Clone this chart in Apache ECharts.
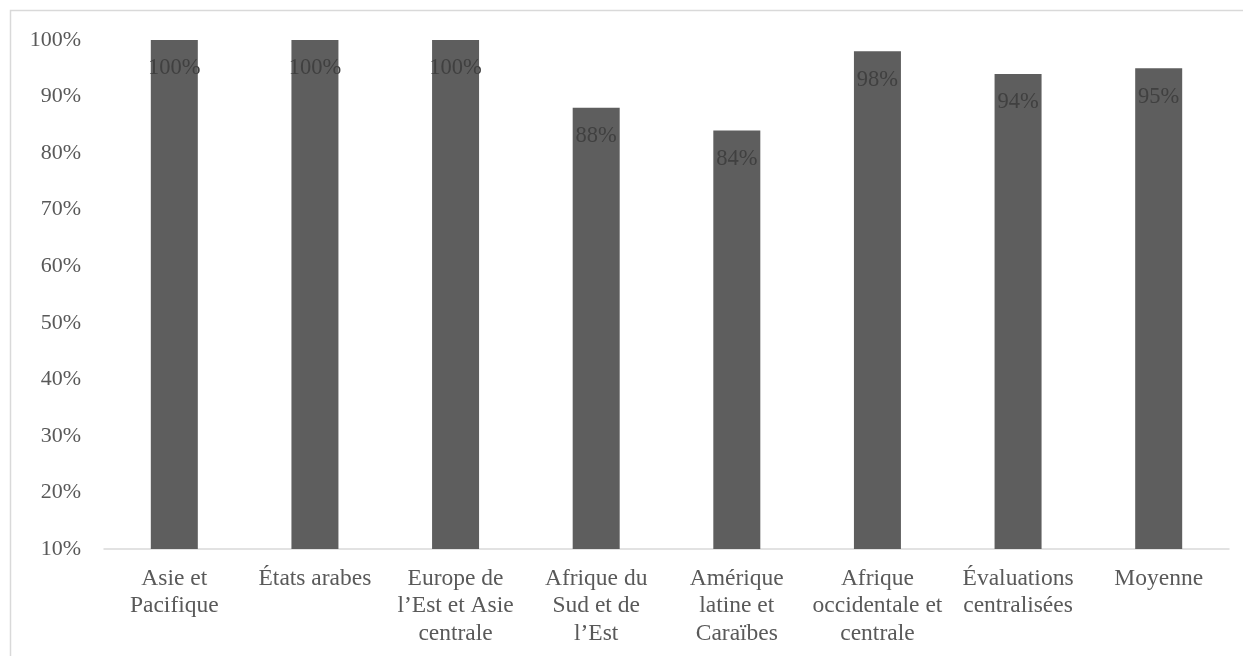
<!DOCTYPE html>
<html>
<head>
<meta charset="utf-8">
<script src="https://cdn.jsdelivr.net/npm/echarts@6/dist/echarts.min.js"></script>
<style>
html,body{margin:0;padding:0;background:#fff;}
#c{width:1243px;height:656px;}
</style>
</head>
<body>
<div id="c"></div>
<script>
const categories = [
  "Asie et\nPacifique",
  "États arabes",
  "Europe de\nl’Est et Asie\ncentrale",
  "Afrique du\nSud et de\nl’Est",
  "Amérique\nlatine et\nCaraïbes",
  "Afrique\noccidentale et\ncentrale",
  "Évaluations\ncentralisées",
  "Moyenne"
];
const values = [100, 100, 100, 88, 84, 98, 94, 95];
const yMin = 10, yMax = 100, yStep = 10;

const FONT = "'Liberation Serif', 'Times New Roman', serif";
const chart = echarts.init(document.getElementById('c'));
chart.setOption({
  animation: false,
  backgroundColor: '#fff',
  textStyle: { fontFamily: FONT },
  graphic: [{
    type: 'rect',
    shape: { x: 10.5, y: 10.5, width: 1300, height: 700 },
    style: { fill: 'none', stroke: '#d9d9d9', lineWidth: 1.5 },
    silent: true
  }],
  grid: { left: 104, right: 14, top: 40, bottom: 107, containLabel: false },
  xAxis: {
    type: 'category',
    data: categories,
    axisLine: { show: true, lineStyle: { color: '#d9d9d9', width: 1.5 } },
    axisTick: { show: false },
    axisLabel: {
      interval: 0,
      color: '#595959',
      fontFamily: FONT,
      fontSize: 23.5,
      lineHeight: 27.5,
      margin: 16,
      verticalAlign: 'top'
    }
  },
  yAxis: {
    type: 'value',
    min: yMin, max: yMax, interval: yStep,
    axisLine: { show: false },
    axisTick: { show: false },
    splitLine: { show: false },
    axisLabel: {
      formatter: '{value}%',
      color: '#595959',
      fontFamily: FONT,
      fontSize: 22,
      margin: 23
    }
  },
  series: [{
    type: 'bar',
    data: values,
    barWidth: 47,
    itemStyle: { color: '#5e5e5e' },
    label: {
      show: true,
      position: 'insideTop',
      distance: 17,
      formatter: '{c}%',
      color: '#404040',
      fontFamily: FONT,
      fontSize: 22.5
    }
  }]
});
</script>
</body>
</html>
